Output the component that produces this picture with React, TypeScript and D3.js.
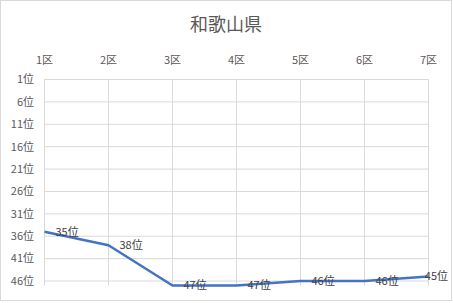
import React from "react";
import * as d3 from "d3";

const title = "和歌山県";
const categories = ["1区", "2区", "3区", "4区", "5区", "6区", "7区"];
const ranks = [35, 38, 47, 47, 46, 46, 45];
const yTicks = [1, 6, 11, 16, 21, 26, 31, 36, 41, 46];

export default function App() {
  const W = 453, H = 303;
  const x = d3.scalePoint<string>().domain(categories).range([44.5, 428.5]);
  const y = d3.scaleLinear().domain([1, 47]).range([79.5, 285.5]);
  const line = d3.line<number>().x((_, i) => x(categories[i]) as number).y((d) => y(d));
  const font = "'Noto Sans CJK JP', 'Noto Sans', sans-serif";
  const labelW = 24;
  return (
    <svg width={W} height={H} style={{ position: "absolute", left: 0, top: 0, background: "#fff" }} fontFamily={font}>
      <rect x={0.5} y={0.5} width={451} height={300} fill="#fff" stroke="#d9d9d9" />
      <text x={226} y={31} textAnchor="middle" fontSize={18} fill="#595959">{title}</text>
      {yTicks.map((t) => (
        <line key={"h" + t} x1={x(categories[0])} x2={x(categories[categories.length - 1])} y1={y(t)} y2={y(t)} stroke="#d9d9d9" strokeWidth={1} />
      ))}
      {categories.map((c) => (
        <line key={"v" + c} x1={x(c)} x2={x(c)} y1={y(1)} y2={y(47)} stroke="#d9d9d9" strokeWidth={1} />
      ))}
      {categories.map((c) => (
        <text key={"c" + c} x={(x(c) as number)} y={64} textAnchor="middle" fontSize={11} fill="#595959">{c}</text>
      ))}
      {yTicks.map((t) => (
        <text key={"t" + t} x={34} y={y(t)} dy="0.35em" textAnchor="end" fontSize={11} fill="#595959">{t}位</text>
      ))}
      <path d={line(ranks) || ""} fill="none" stroke="#4472C4" strokeWidth={2.5} strokeLinejoin="round" />
      {ranks.map((r, i) => {
        const px = (x(categories[i]) as number) + 11;
        const fits = px + labelW <= 448;
        return (
          <text key={"l" + i} x={fits ? px : 448} textAnchor={fits ? "start" : "end"} y={y(r)} dy="0.35em" fontSize={11} fill="#404040">{r}位</text>
        );
      })}
    </svg>
  );
}
